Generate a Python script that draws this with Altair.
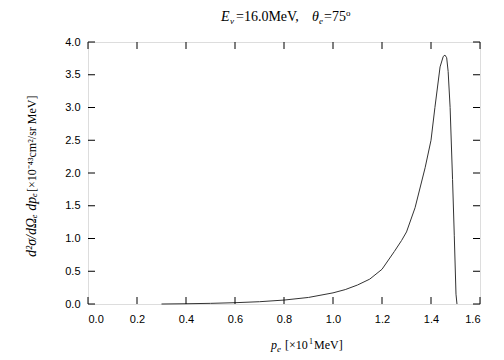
import altair as alt
import pandas as pd

# curve values (p_e in units of 10 MeV)
p_vals = [0.30, 0.40, 0.50, 0.60, 0.70, 0.80, 0.90, 1.00, 1.05, 1.10, 1.15,
          1.20, 1.25, 1.28, 1.30, 1.335, 1.376, 1.40, 1.416, 1.437, 1.450,
          1.457, 1.464, 1.470, 1.478, 1.488, 1.495, 1.502, 1.506]
xs_vals = [0.0, 0.004, 0.01, 0.02, 0.035, 0.06, 0.10, 0.17, 0.22, 0.29, 0.38,
           0.53, 0.80, 0.97, 1.10, 1.47, 2.08, 2.50, 3.00, 3.62, 3.78,
           3.80, 3.76, 3.55, 3.00, 1.90, 1.05, 0.15, 0.0]

x_ticks = [0.0, 0.2, 0.4, 0.6, 0.8, 1.0, 1.2, 1.4, 1.6]
y_ticks = [0.0, 0.5, 1.0, 1.5, 2.0, 2.5, 3.0, 3.5, 4.0]

W, H = 392, 262
TL = 7
SERIF = "Liberation Serif"
SANS = "Liberation Sans"

df = pd.DataFrame({"p": p_vals, "xs": xs_vals})
xt = pd.DataFrame({"p": x_ticks})
yt = pd.DataFrame({"xs": y_ticks})
dummy = pd.DataFrame({"a": [0]})

xscale = alt.Scale(domain=[0, 1.6], nice=False, zero=False)
yscale = alt.Scale(domain=[0, 4], nice=False)

xaxis = alt.Axis(values=x_ticks, format=".1f", ticks=False, domain=False, grid=False,
                 labelFont=SANS, labelFontSize=11, labelColor="#000", labelPadding=9,
                 labelOverlap=False, title=None)
yaxis = alt.Axis(values=y_ticks, format=".1f", ticks=False, domain=False, grid=False,
                 labelFont=SANS, labelFontSize=11, labelColor="#000", labelPadding=8,
                 labelOverlap=False, title=None)

line = alt.Chart(df).mark_line(color="#333", strokeWidth=1).encode(
    x=alt.X("p:Q", scale=xscale, axis=xaxis),
    y=alt.Y("xs:Q", scale=yscale, axis=yaxis),
)

tick_style = dict(color="#000", strokeWidth=1)
xb = alt.Chart(xt).mark_rule(**tick_style).encode(
    x=alt.X("p:Q", scale=xscale, axis=xaxis), y=alt.value(H), y2=alt.value(H - TL))
xtop = alt.Chart(xt).mark_rule(**tick_style).encode(
    x=alt.X("p:Q", scale=xscale, axis=xaxis), y=alt.value(0), y2=alt.value(TL))
yl = alt.Chart(yt).mark_rule(**tick_style).encode(
    y=alt.Y("xs:Q", scale=yscale, axis=yaxis), x=alt.value(0), x2=alt.value(TL))
yr = alt.Chart(yt).mark_rule(**tick_style).encode(
    y=alt.Y("xs:Q", scale=yscale, axis=yaxis), x=alt.value(W), x2=alt.value(W - TL))


def txt(s, x, y, size=13, style="normal", angle=0, baseline="alphabetic"):
    return alt.Chart(dummy).mark_text(
        text=s, font=SERIF, fontSize=size, fontStyle=style, align="left",
        baseline=baseline, angle=angle, color="#000"
    ).encode(x=alt.value(x), y=alt.value(y))


title_y = -21
title = [
    txt("E", 133, title_y, 14, "italic"),
    txt("ν", 142, title_y + 3, 9, "italic"),
    txt("=16.0MeV,", 148, title_y, 14),
    txt("θ", 224, title_y, 14, "italic"),
    txt("e", 231, title_y + 3, 9, "italic"),
    txt("=75", 236, title_y, 14),
    txt("o", 258, title_y - 5, 9),
]

xb_y = 307
xtitle = [
    txt("p", 183, xb_y, 12, "italic"),
    txt("e", 189, xb_y + 3, 9, "italic"),
    txt("[×10", 197, xb_y, 12),
    txt("1", 221, xb_y - 5, 8),
    txt("MeV]", 226, xb_y, 12),
]

ytitle = [
    txt("d²σ/dΩₑ dpₑ", -56, 215, 14, "italic", 270, "middle"),
    txt("[×10⁻⁴³cm²/sr MeV]", -56, 150, 12, "normal", 270, "middle"),
]

chart = alt.layer(line, xb, xtop, yl, yr, *title, *xtitle, *ytitle).properties(
    width=W, height=H,
    padding={"left": 80, "top": 34, "right": 16, "bottom": 52},
    autosize=alt.AutoSizeParams(type="none"),
).configure_view(stroke="#000", strokeWidth=1.5).configure(background="white")

chart.save("out.html", embed_options={"renderer": "svg", "actions": False})
